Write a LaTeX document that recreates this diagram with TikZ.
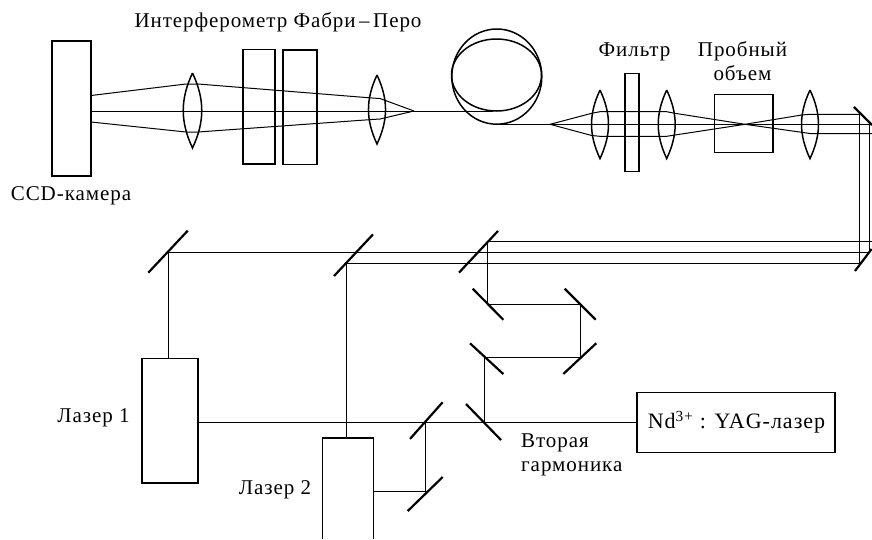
\documentclass[tikz,border=0pt]{standalone}
\usepackage{fontspec}
\setmainfont[LetterSpace=4.5]{Liberation Serif}
\tikzset{
	box/.style={draw,line width=1.5pt,inner sep=0pt},
	beam/.style={line width=1pt},
	mirror/.style={fill=black,inner sep=0pt,minimum height=2.2pt},
	lbl/.style={font=\fontsize{21}{24}\selectfont,inner sep=0pt,align=center}
}
\begin{document}
\begin{tikzpicture}[x=1pt,y=-1pt]
	\useasboundingbox (0,0) rectangle (872,539);
	% boxes
	\node[box,minimum width=39,minimum height=135] (ccd) at (71.5,108.5) {};
	\node[box,minimum width=32,minimum height=114.5] (fp1) at (259,106.8) {};
	\node[box,minimum width=34,minimum height=114.5] (fp2) at (300,107.2) {};
	\node[box,minimum width=14,minimum height=98.4] (filt) at (632,122.5) {};
	\node[box,minimum width=58.7,minimum height=57.6] (probe) at (743.7,123.5) {};
	\node[box,minimum width=56,minimum height=124.7] (las1) at (170,420.7) {};
	\node[box,minimum width=198,minimum height=60] (yag) at (736,422.7) {};
	\coordinate (las2) at (348,438);
	\draw[line width=1.5pt] (322.7,539) |- (373.3,438) -- (373.3,539);
	% fibre coil
	\draw[line width=1.5pt] (496.8,76.6) ellipse (45 and 47.6);
	\draw[line width=1.5pt] (496.5,75) ellipse (45 and 36);
	% lenses
	\foreach \n/\x/\y/\h in {l1/192.5/110.5/37.5,l2/377/109.5/34.5,l3/600/124.3/34.3,l4/666.7/124.3/34.3,l5/810/124.3/34.3}{
		\coordinate (\n) at (\x,\y);
		\draw[line width=1.5pt] (\x,\y-\h) to[bend left=25] (\x,\y+\h) to[bend left=25] (\x,\y-\h);
	}
	% mirrors
	\foreach \n/\x/\y/\a/\l in {m1/168/251.7/46.8/57.6,m2/353.5/255.2/46.9/57,m3/478.5/251.8/46.9/57,m4/488/304.2/-45.4/43.6,m5/580.2/304.2/-45/43.8,m6/579.8/358.6/43/45,m7/486.7/358.7/-42.7/45.3,m8/483.5/422/-45.8/50.2,m9/426.3/420.6/48.3/49,m10/425.2/494/44.2/48.8,m11/863/116/-45/25.5,m12/863.3/260/52.8/27.6}{
		\node[mirror,rotate=\a,minimum width=\l] (\n) at (\x,\y) {};
	}
	% points on the beams
	\coordinate (ca) at (91,95.5);
	\coordinate (cb) at (91,111);
	\coordinate (cc) at (91,122);
	\coordinate (a1) at (186,84);
	\coordinate (a2) at (198,84);
	\coordinate (a3) at (372,98);
	\coordinate (a4) at (380,98.5);
	\coordinate (c1) at (186,132);
	\coordinate (c2) at (198,132);
	\coordinate (c3) at (372,119.5);
	\coordinate (c4) at (380,119);
	\coordinate (f1) at (414,111);
	\coordinate (f2) at (493,111);
	\coordinate (g0) at (497,124.3);
	\coordinate (g1) at (550,124.3);
	\coordinate (g2) at (745,124.3);
	\coordinate (g3) at (870,124.3);
	\coordinate (u1) at (591.7,113.3);
	\coordinate (u2) at (600,111.7);
	\coordinate (u3) at (666.7,111.7);
	\coordinate (u4) at (675,113.3);
	\coordinate (u5) at (801.7,115);
	\coordinate (u6) at (810,114.3);
	\coordinate (u7) at (859.5,114.3);
	\coordinate (d1) at (591.7,135.5);
	\coordinate (d2) at (600,136.3);
	\coordinate (d3) at (666.7,136.3);
	\coordinate (d4) at (675,135);
	\coordinate (d5) at (801.7,132.3);
	\coordinate (d6) at (810,133.5);
	\coordinate (d7) at (872,133.5);
	\coordinate (h1) at (859.5,263);
	\coordinate (h2) at (869.5,252.7);
	\coordinate (h3) at (872,241.5);
	\coordinate (b1) at (168,252.7);
	\coordinate (b2) at (346.7,263);
	\coordinate (b3) at (487.3,241.5);
	\coordinate (b4) at (487.3,304.3);
	\coordinate (b5) at (580.3,304.3);
	\coordinate (b6) at (580.3,357.3);
	\coordinate (b7) at (484.3,357.3);
	\coordinate (b8) at (484.3,422.3);
	\coordinate (b9) at (425.7,422.3);
	\coordinate (b10) at (425.7,491.7);
	% beams
	\draw[beam] (ca) -- (a1) -- (a2) -- (a3) -- (a4) -- (f1);
	\draw[beam] (cc) -- (c1) -- (c2) -- (c3) -- (c4) -- (f1);
	\draw[beam] (cb) -- (f2);
	\draw[beam] (g0) -- (g3);
	\draw[beam] (g1) -- (u1) -- (u2) -- (u3) -- (u4) -- (g2) -- (d5) -- (d6) -- (d7);
	\draw[beam] (g1) -- (d1) -- (d2) -- (d3) -- (d4) -- (g2) -- (u5) -- (u6) -- (u7);
	\draw[beam] (u7) -- (u7 |- h3);
	\draw[beam] (u7 |- h3) -- (h1);
	\draw[beam] (g3 -| h2) -- (h2);
	\draw[beam] (b3) -- (h3);
	\draw[beam,line width=1.5pt] (b1) -- (h2);
	\draw[beam] (b2) -- (h1);
	\draw[beam] (b1) -- (b1 |- las1.north);
	\draw[beam] (b2) -- (b2 |- las2);
	\draw[beam] (b3) -- (b4) -- (b5) -- (b6) -- (b7) -- (b8);
	\draw[beam] (las1.east |- b8) -- (yag.west |- b8);
	\draw[beam] (b9) -- (b10) -- (373.3,491.7);
	% labels
	\node[lbl] (fpl) at (278,22.5) {Интерферометр Фабри\,--\,Перо};
	\node[lbl] (ccdl) at (71,195.5) {CCD-камера};
	\node[lbl] (filtl) at (634.5,52) {Фильтр};
	\node[lbl] (probel) at (742.5,61) {Пробный\\объем};
	\node[lbl] (las1l) at (93.5,418) {Лазер 1};
	\node[lbl] (las2l) at (275,490) {Лазер 2};
	\node[lbl,align=left,anchor=west] (shg) at (521,454.5) {Вторая\\гармоника};
	\node[lbl,font=\fontsize{22}{24}\selectfont] (yagl) at (736.5,422) {Nd\textsuperscript{3+} : YAG-лазер};
\end{tikzpicture}
\end{document}
